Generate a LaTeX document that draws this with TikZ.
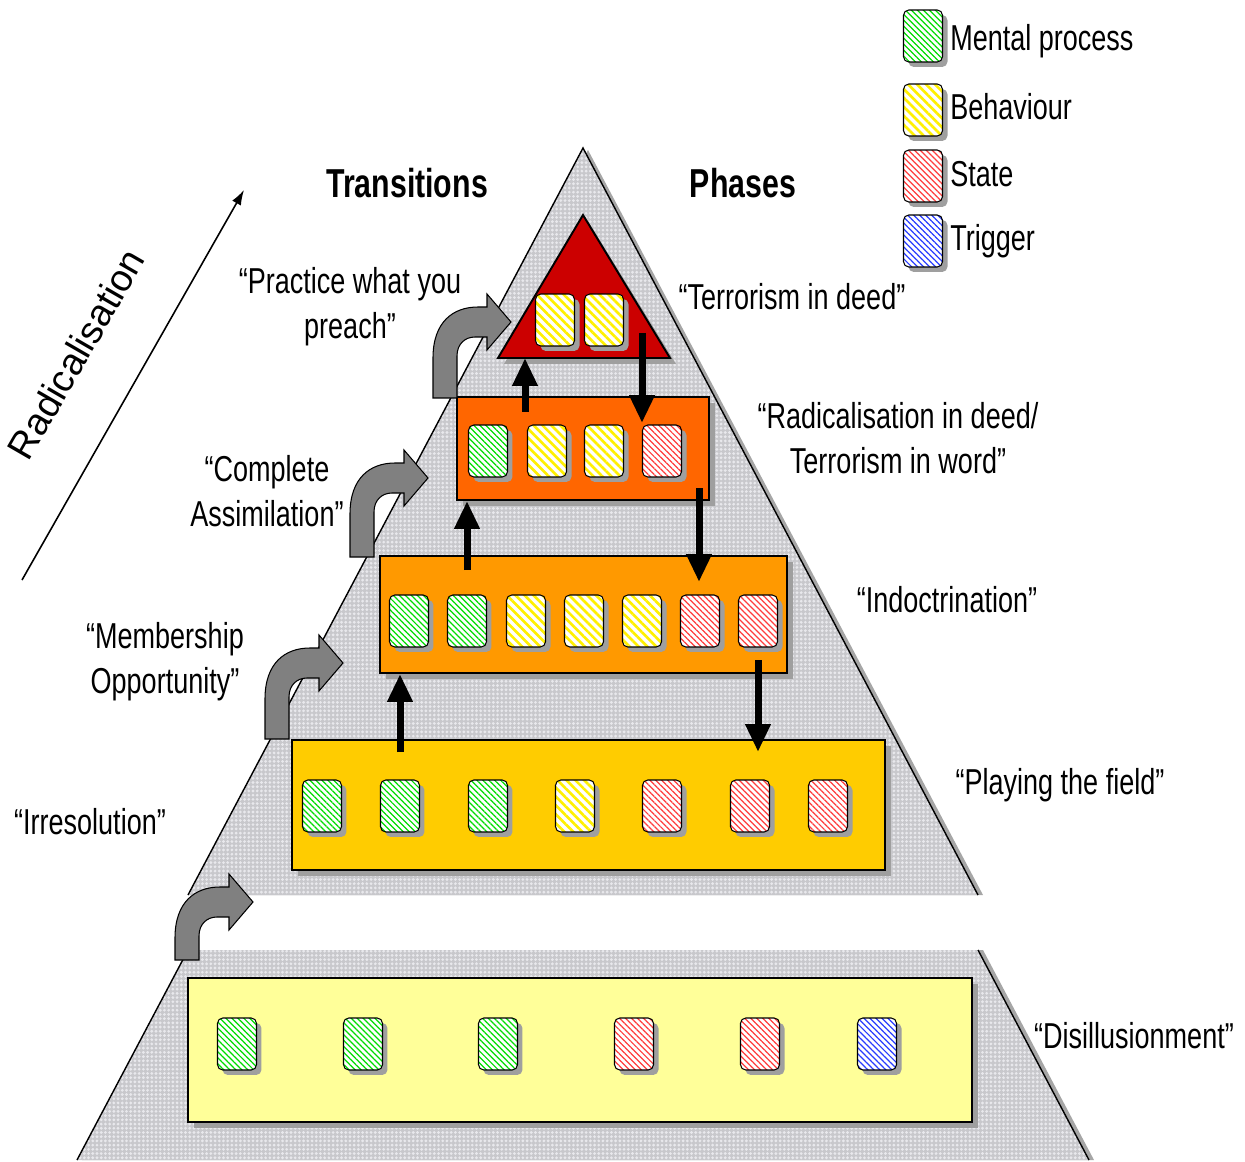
\documentclass[tikz,border=0pt]{standalone}
\usepackage{fontspec}
\setmainfont{Liberation Sans}[FakeStretch=0.75]
\newfontfamily\radfont{Liberation Sans}
\usetikzlibrary{arrows.meta,patterns.meta,shadows,fit}
\definecolor{pyrgray}{RGB}{200,200,204}
\definecolor{pyrdot}{RGB}{232,232,236}
\definecolor{arrgray}{RGB}{128,128,128}
\definecolor{darkred}{RGB}{204,0,0}
\definecolor{redorange}{RGB}{255,102,0}
\definecolor{orange2}{RGB}{255,153,0}
\definecolor{gold2}{RGB}{255,204,0}
\definecolor{paleyellow}{RGB}{255,255,153}
\definecolor{hgreen}{RGB}{0,220,0}
\definecolor{hyellow}{RGB}{255,240,0}
\definecolor{hred}{RGB}{255,60,60}
\definecolor{hblue}{RGB}{40,60,255}
\newcommand\bentarr[3]{%
  \begin{scope}[shift={(#1,#2)}]
    \pgfmathsetmacro\ha{-(#3-36)}\pgfmathsetmacro\hb{-#3}
    \pgfmathsetmacro\hc{-(#3+15)}\pgfmathsetmacro\hd{-(#3+28)}
    \pgfmathsetmacro\he{-(#3-28)}\pgfmathsetmacro\hf{-(#3-15)}
    \pgfmathsetmacro\hg{-(#3-22)}\pgfmathsetmacro\hh{-(#3-34)}
    \filldraw[fill=arrgray,draw=black,line width=0.6pt]
      (0,0) -- (0,\ha) .. controls (0,\hb) and (20,\hc) .. (45,\hc) -- (54,\hc) -- (54,\hd)
      -- (78,\hb) -- (54,\he) -- (54,\hf) -- (42,\hf) .. controls (32,\hf) and (24,\hg) .. (24,\hh)
      -- (24,0) -- cycle;
  \end{scope}}
\begin{document}
\begin{tikzpicture}[x=0.02cm,y=-0.02cm,
  lbl/.style={font=\fontsize{20.5}{25.5}\selectfont, align=center, inner sep=0pt},
  head/.style={font=\fontsize{23}{27}\selectfont\bfseries, inner sep=0pt},
  phasebox/.style={draw=black, line width=1.1pt, inner sep=0pt,
    drop shadow={shadow xshift=0.12cm, shadow yshift=-0.12cm, fill=gray!75, opacity=1}},
  sq/.style={minimum width=0.78cm, minimum height=1.04cm, rounded corners=3pt, inner sep=0pt,
    drop shadow={shadow xshift=0.1cm, shadow yshift=-0.1cm, fill=gray!75, opacity=1},
    preaction={fill=white}, draw=black, line width=0.6pt},
  sqG/.style={sq, pattern={Lines[angle=-45,distance=2.4pt,line width=0.7pt]}, pattern color=hgreen},
  sqY/.style={sq, pattern={Lines[angle=-45,distance=3.6pt,line width=1.5pt]}, pattern color=hyellow},
  sqR/.style={sq, pattern={Lines[angle=-45,distance=2.4pt,line width=0.7pt]}, pattern color=hred},
  sqB/.style={sq, pattern={Lines[angle=-45,distance=2.4pt,line width=0.7pt]}, pattern color=hblue},
  barrow/.style={line width=0.14cm, -{Triangle[width=0.48cm,length=0.56cm]}},
  pyr/.style={preaction={fill=pyrgray}, pattern={Dots[radius=0.9pt,distance=2.4pt]}, pattern color=pyrdot},
]
\useasboundingbox (0,0) rectangle (1245,1162);

% pyramid shadow
\fill[gray!70] (588,150) -- (193,895) -- (983,895) -- cycle;
\fill[gray!70] (193,950) -- (983,950) -- (1094,1160) -- (82,1160) -- cycle;
% pyramid
\path[pyr] (583,148) -- (188,895) -- (978,895) -- cycle;
\path[pyr] (188,950) -- (978,950) -- (1089,1160) -- (77,1160) -- cycle;
\draw[line width=0.8pt] (188,895) -- (583,148) -- (978,895);
\draw[line width=0.8pt] (188,950) -- (77,1160);
\draw[line width=0.8pt] (978,950) -- (1089,1160);

% phase boxes
\fill[gray!75] (588,221) -- (676,364) -- (504,364) -- cycle;
\draw[fill=darkred, line width=1.1pt] (583,215) coordinate (triA) -- (670,358) coordinate (triR) -- (498,358) coordinate (triL) -- cycle;
\node[phasebox, fill=redorange, fit={(457,397) (709,500)}] (rw) {};
\node[phasebox, fill=orange2, fit={(380,556) (787,673)}] (ind) {};
\node[phasebox, fill=gold2, fit={(292,740) (885,870)}] (play) {};
\node[phasebox, fill=paleyellow, fit={(188,978) (972,1122)}] (dis) {};

% squares
\node[sqY] (t1) at (555,320) {};
\node[sqY] (t2) at (604,320) {};
\foreach \x/\s [count=\i] in {488/sqG,547/sqY,604/sqY,662/sqR}
  \node[\s] (rw\i) at (\x,451) {};
\foreach \x/\s [count=\i] in {409/sqG,467/sqG,526/sqY,584/sqY,642/sqY,700/sqR,758/sqR}
  \node[\s] (ind\i) at (\x,621) {};
\foreach \x/\s [count=\i] in {322/sqG,400/sqG,488/sqG,575/sqY,662/sqR,750/sqR,828/sqR}
  \node[\s] (pl\i) at (\x,806) {};
\foreach \x/\s [count=\i] in {237/sqG,363/sqG,498/sqG,634/sqR,760/sqR,877/sqB}
  \node[\s] (di\i) at (\x,1044) {};

% black arrows
\coordinate (u1) at (400,752);
\coordinate (u2) at (467,570);
\coordinate (u3) at (525,412);
\draw[barrow] (u1) -- (u1 |- ind.south);
\draw[barrow] (u2) -- (u2 |- rw.south);
\draw[barrow] (u3) -- (u3 |- triL);
\coordinate (d1a) at (758,660); \coordinate (d1b) at (758,752);
\coordinate (d2a) at (699,488); \coordinate (d2b) at (699,582);
\coordinate (d3a) at (642,333); \coordinate (d3b) at (642,423);
\draw[barrow] (d1a) -- (d1b);
\draw[barrow] (d2a) -- (d2b);
\draw[barrow] (d3a) -- (d3b);

% bent grey arrows
\bentarr{175}{960}{58}
\bentarr{265}{739}{76}
\bentarr{350}{557}{79}
\bentarr{433}{398}{76}

% radicalisation arrow
\coordinate (radA) at (22,580);
\coordinate (radB) at (244,190);
\draw[line width=0.9pt, -{Latex[length=3mm,width=2mm]}] (radA) -- (radB);
\node[inner sep=0pt, rotate=60, font=\radfont\fontsize{21.5}{25}\selectfont] (radl) at (76,354) {Radicalisation};

% headings
\node[head] (htr) at (407,183) {Transitions};
\node[head] (hph) at (743,183) {Phases};

% labels
\node[lbl] (l1) at (350,307) {“Practice what you\\ preach”};
\node[lbl] (l2) at (792,297) {“Terrorism in deed”};
\node[lbl] (l3) at (898,438) {“Radicalisation in deed/\\ Terrorism in word”};
\node[lbl] (l4) at (267,491) {“Complete\\ Assimilation”};
\node[lbl] (l5) at (947,600) {“Indoctrination”};
\node[lbl] (l6) at (165,662) {“Membership\\ Opportunity”};
\node[lbl] (l7) at (1060,785) {“Playing the field”};
\node[lbl] (l8) at (90,822) {“Irresolution”};
\node[lbl] (l9) at (1134,1036) {“Disillusionment”};

% legend
\node[sqG] (lg1) at (923,36) {};
\node[sqY] (lg2) at (923,110) {};
\node[sqR] (lg3) at (923,176) {};
\node[sqB] (lg4) at (923,241) {};
\node[lbl, anchor=west] (lt1) at (950,41) {Mental process};
\node[lbl, anchor=west] (lt2) at (950,107) {Behaviour};
\node[lbl, anchor=west] (lt3) at (950,174) {State};
\node[lbl, anchor=west] (lt4) at (950,241) {Trigger};
\end{tikzpicture}
\end{document}
